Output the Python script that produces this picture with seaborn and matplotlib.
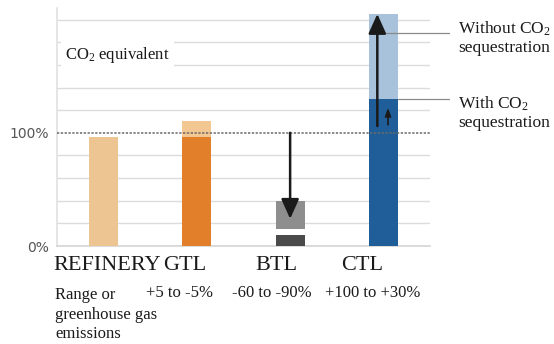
import matplotlib
matplotlib.use("Agg")
import matplotlib.pyplot as plt
import seaborn as sns
import pandas as pd

# Data
categories = ["REFINERY", "GTL", "BTL", "CTL"]
upper_values = [96, 110, 40, 205]      # upper end of emission range (% of refinery)
gap_values = [0, 0, 15, 0]             # white separation within the BTL range
lower_values = [96, 96, 10, 130]       # lower end of emission range
upper_colors = ["#ECC592", "#F3C792", "#8E8E8E", "#A8C2DB"]
lower_colors = ["#ECC592", "#E17F2B", "#4A4A4A", "#1F5E98"]
range_labels = ["+5 to -5%", "-60 to -90%", "+100 to +30%"]
note_lines = ["Range or", "greenhouse gas", "emissions"]
grid_ticks = list(range(0, 201, 20))

sns.set_theme(style="white")
plt.rcParams["mathtext.default"] = "regular"
serif = "Liberation Serif"

W, H = 554, 344
fig = plt.figure(figsize=(W / 100, H / 100), dpi=100)
ax = fig.add_axes([57 / W, 1 - 246 / H, (430 - 57) / W, 0.6910])
ax.set_xlim(-0.5, 3.5)
ax.set_ylim(0, 210)

df = pd.DataFrame({"cat": categories, "upper": upper_values,
                   "gap": gap_values, "lower": lower_values})

for col, colors in (("upper", upper_colors),
                    ("gap", ["white"] * 4),
                    ("lower", lower_colors)):
    sns.barplot(data=df, x="cat", y=col, hue="cat", order=categories,
                hue_order=categories, palette=colors, width=0.31,
                saturation=1, linewidth=0, legend=False, ax=ax, zorder=3)

# grid and reference line
for t in grid_ticks:
    if t == 100:
        continue
    ax.axhline(t, color="#DCDCDC", lw=1, zorder=1)
ax.axhline(100, color="#6A6A6A", lw=1.1, ls=(0, (1.5, 1)), zorder=4)

ax.set_yticks([0, 100])
ax.set_yticklabels(["0%", "100%"], color="#555555", fontsize=10)
ax.tick_params(axis="y", length=0, pad=6)
ax.set_xticks([])
ax.set_xlabel("")
ax.set_ylabel("")
for side in ("top", "right"):
    ax.spines[side].set_visible(False)
ax.spines["left"].set_color("#E2E2E2")
ax.spines["bottom"].set_color("#D6D6D6")

# arrows
arrow_kw = dict(arrowstyle="-|>,head_length=1.0,head_width=0.45",
                color="#1A1A1A", lw=1.8, shrinkA=0, shrinkB=0)
ax.annotate("", xy=(2.0, 24), xytext=(2.0, 100), arrowprops=arrow_kw, zorder=5)
ax.annotate("", xy=(2.935, 205), xytext=(2.935, 106), arrowprops=arrow_kw, zorder=5)
ax.annotate("", xy=(3.05, 122), xytext=(3.05, 107),
            arrowprops=dict(arrowstyle="-|>,head_length=0.4,head_width=0.15",
                            color="#1A1A1A", lw=1.2, shrinkA=0, shrinkB=0), zorder=5)

# leader lines to the CTL range labels
ax.plot([3.03, 3.70], [188.5, 188.5], color="#8A8A8A", lw=0.9, clip_on=False, zorder=6)
ax.plot([3.16, 3.70], [129.5, 129.5], color="#8A8A8A", lw=0.9, clip_on=False, zorder=6)

def ftext(x, y, s, **kw):
    fig.text(x / W, 1 - y / H, s, family=serif, color="#1A1A1A", **kw)

ftext(458, 38, "Without CO$_2$\nsequestration", fontsize=12.5, va="center",
      linespacing=1.15)
ftext(458, 113, "With CO$_2$\nsequestration", fontsize=12.5, va="center",
      linespacing=1.15)

ax.text(-0.41, 169, "CO$_2$ equivalent", family=serif, fontsize=12, color="#1A1A1A",
        va="center", ha="left", zorder=6,
        bbox=dict(facecolor="white", edgecolor="none", pad=3))

# category names
for x, name in zip([107, 185, 276, 362], categories):
    ftext(x, 266, name, fontsize=16, ha="center", va="center")

for y, line in zip([295, 315, 334], note_lines):
    ftext(55, y, line, fontsize=12, ha="left", va="center")
for x, lab in zip([180, 272, 373], range_labels):
    ftext(x, 293, lab, fontsize=12, ha="center", va="center")

fig.savefig("out.png", dpi=100)
